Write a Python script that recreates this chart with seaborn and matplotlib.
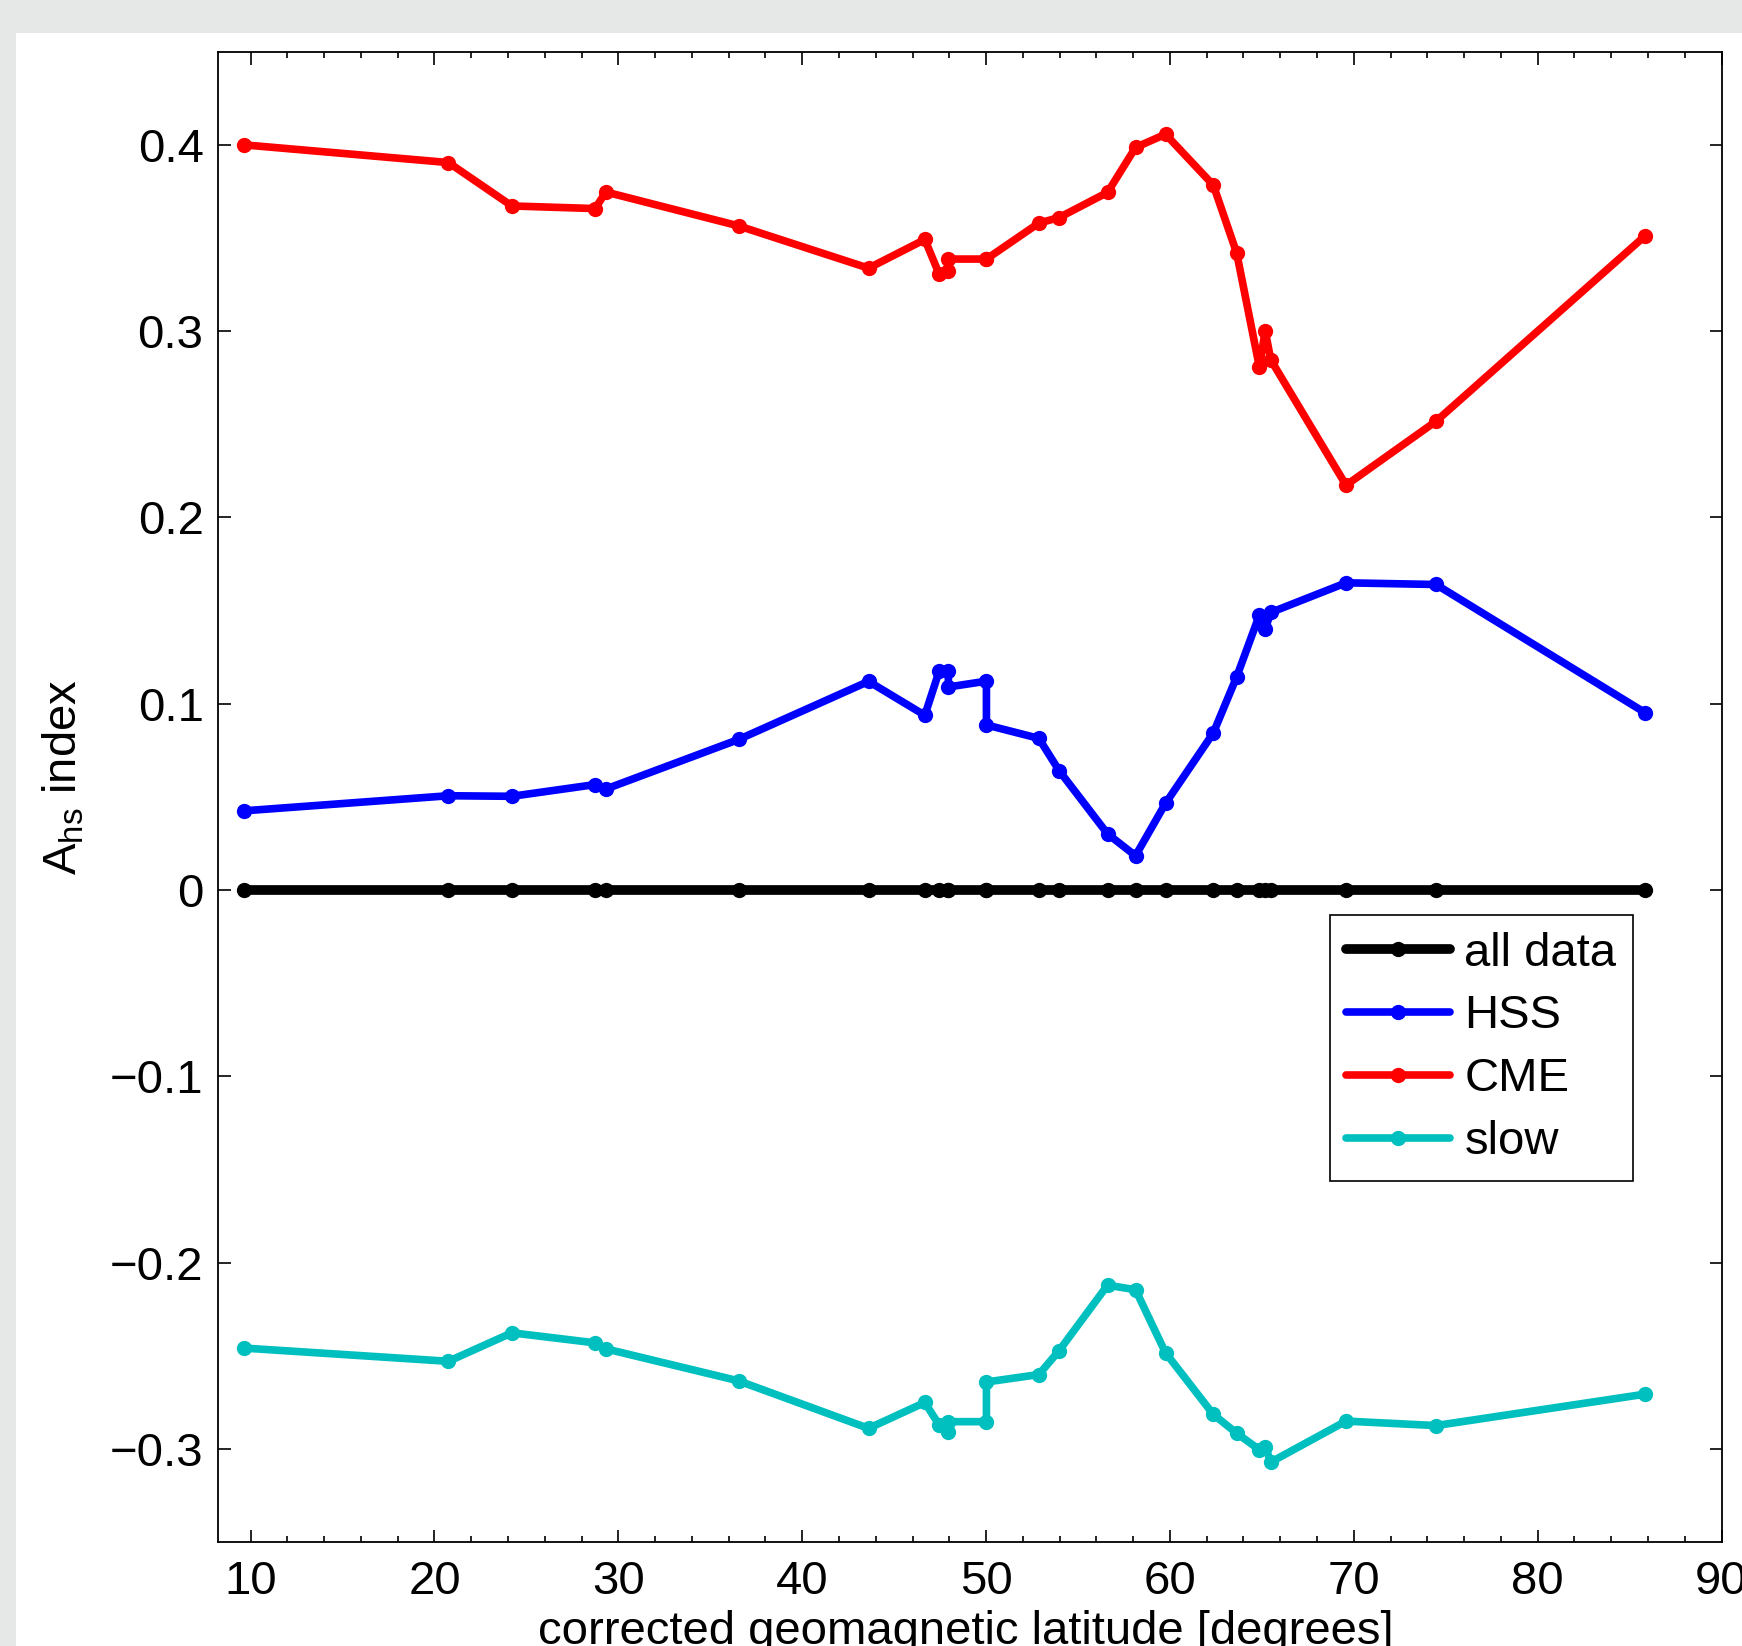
import matplotlib
matplotlib.use('Agg')
import matplotlib.pyplot as plt
from matplotlib.patches import Rectangle
from matplotlib.ticker import MultipleLocator, FuncFormatter
import seaborn as sns
import pandas as pd
import numpy as np

# station latitudes (two pairs share nearly the same latitude)
lat = [9.64, 20.76, 24.21, 28.74, 29.32, 36.54, 43.61, 46.67, 47.45, 47.95, 47.95,
       50.02, 50.02, 52.87, 53.98, 56.61, 58.13, 59.76, 62.36, 63.63, 64.87, 65.18,
       65.49, 69.58, 74.47, 85.86]

all_data = [0.0] * len(lat)
hss = [0.0425, 0.0506, 0.0503, 0.0566, 0.0542, 0.0808, 0.1120, 0.0938, 0.1175, 0.1175,
       0.1090, 0.1121, 0.0886, 0.0814, 0.0640, 0.0301, 0.0184, 0.0465, 0.0843, 0.1144,
       0.1477, 0.1402, 0.1490, 0.1649, 0.1640, 0.0951]
cme = [0.4000, 0.3905, 0.3672, 0.3658, 0.3747, 0.3565, 0.3338, 0.3492, 0.3306, 0.3325,
       0.3387, 0.3387, 0.3387, 0.3580, 0.3610, 0.3745, 0.3986, 0.4057, 0.3784, 0.3420,
       0.2805, 0.3002, 0.2845, 0.2173, 0.2516, 0.3513]
slow = [-0.2459, -0.2530, -0.2377, -0.2431, -0.2463, -0.2635, -0.2890, -0.2751, -0.2872,
        -0.2907, -0.2854, -0.2854, -0.2641, -0.2601, -0.2472, -0.2121, -0.2146, -0.2484,
        -0.2815, -0.2916, -0.3005, -0.2990, -0.3071, -0.2851, -0.2875, -0.2706]

series_names = ['all data', 'HSS', 'CME', 'slow']
series_colors = ['black', '#0000ff', '#ff0000', '#00bfbf']

sns.set_style('ticks')
plt.rcParams['font.family'] = ['Liberation Sans', 'DejaVu Sans']
plt.rcParams['mathtext.fontset'] = 'custom'
plt.rcParams['mathtext.rm'] = 'Liberation Sans'
plt.rcParams['mathtext.it'] = 'Liberation Sans'
plt.rcParams['text.color'] = 'black'
plt.rcParams['axes.labelcolor'] = 'black'
plt.rcParams['xtick.color'] = 'black'
plt.rcParams['ytick.color'] = 'black'

fig = plt.figure(figsize=(17.42, 16.46), dpi=100)
fig.patch.set_facecolor('#e6e8e7')
fig.add_artist(Rectangle((16 / 1742, 0), 1, 1 - 33 / 1646, transform=fig.transFigure,
                         facecolor='white', edgecolor='none', zorder=-1))

ax = fig.add_axes([0.12486, 0.06318, 0.86338, 0.90540])

for name, vals, col in zip(series_names, [all_data, hss, cme, slow], series_colors):
    df = pd.DataFrame({'lat': lat, 'val': vals})
    lw = 7 if name == 'all data' else 5.5
    sns.lineplot(data=df, x='lat', y='val', ax=ax, estimator=None, sort=False,
                 color=col, lw=lw, marker='o', ms=11, mew=0, label=name)

ax.set_xlim(8.2, 90)
ax.set_ylim(-0.35, 0.45)
ax.xaxis.set_major_locator(MultipleLocator(10))
ax.xaxis.set_minor_locator(MultipleLocator(2))
ax.yaxis.set_major_locator(MultipleLocator(0.1))
ax.yaxis.set_major_formatter(FuncFormatter(
    lambda v, p: '0' if abs(v) < 1e-9 else f'{v:.1f}'.replace('-', '\u2212')))

ax.tick_params(which='both', direction='in', top=True, right=True, width=1.2)
ax.tick_params(which='major', length=9)
ax.tick_params(which='minor', length=4)
ax.tick_params(axis='x', labelsize=34, pad=13)
ax.tick_params(axis='y', labelsize=34, pad=10)
for s in ax.spines.values():
    s.set_linewidth(1.3)
    s.set_color('black')

ax.set_xlabel('corrected geomagnetic latitude [degrees]', fontsize=34, va='top')
ax.xaxis.set_label_coords(0.4975, -0.0456)
ax.set_ylabel(r'A$_{\mathrm{hs}}$ index', fontsize=34)
ax.yaxis.set_label_coords(-0.087, 0.513)

leg = ax.legend(loc='upper right', bbox_to_anchor=(0.941, 0.4207), borderaxespad=0,
                fontsize=34, handlelength=2.2, handletextpad=0.3, labelspacing=0.4,
                borderpad=0.35, fancybox=False, framealpha=1, edgecolor='black')
leg.get_frame().set_linewidth(1.2)

fig.savefig('out.png', dpi=100, facecolor=fig.get_facecolor())
